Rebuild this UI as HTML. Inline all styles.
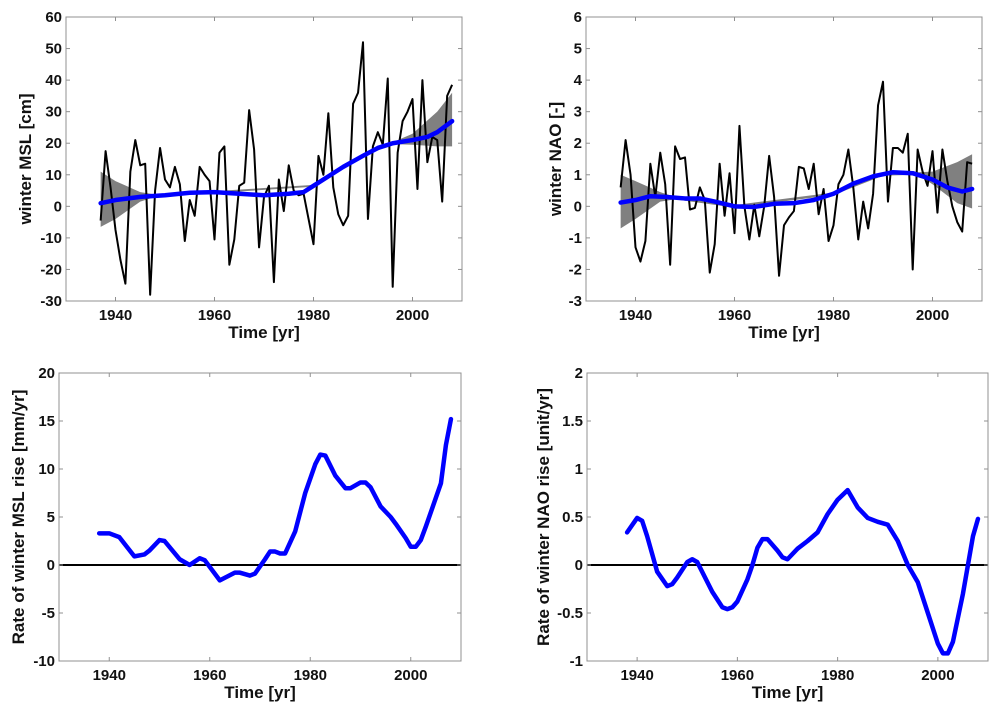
<!DOCTYPE html>
<html><head><meta charset="utf-8"><style>
html,body{margin:0;padding:0;background:#fff}
svg{display:block;font-family:"Liberation Sans",Arial,sans-serif;font-weight:bold}
</style></head><body>
<svg id="fig" width="1000" height="708" viewBox="0 0 1000 708" xmlns="http://www.w3.org/2000/svg"></svg>
<script>
const xTicks=[1940,1960,1980,2000];
const years=[];for(let y=1937;y<=2008;y++)years.push(y);
const mslValues=[-4.5,17.5,6,-7.5,-17,-24.5,11,21,13,13.5,-28,5,18.5,8.5,6,12.5,7,-11,2,-3,12.5,10,8,-10.5,17,19,-18.5,-10.5,6.5,7.5,30.5,18,-13,3,6.5,-24,8.5,-1.5,13,5,3.5,4,-4,-12,16,10,29.5,6,-2.5,-6,-3,32.5,36,52,-4,19,23.5,19.5,40.5,-25.5,17,27,30,34,5.5,40,14,22,21,1.5,35,38.5];
const naoValues=[0.6,2.1,1.0,-1.3,-1.75,-1.1,1.35,0.3,1.7,0.7,-1.85,1.9,1.5,1.55,-0.1,-0.05,0.6,0.2,-2.1,-1.2,1.35,-0.3,1.05,-0.85,2.55,0.0,-1.05,0.05,-0.95,0.0,1.6,0.3,-2.2,-0.6,-0.35,-0.15,1.25,1.2,0.55,1.35,-0.25,0.55,-1.1,-0.6,0.7,1.0,1.8,0.6,-1.05,0.15,-0.7,0.4,3.2,3.95,0.15,1.85,1.85,1.7,2.3,-2.0,1.8,1.1,0.65,1.75,-0.2,1.8,0.8,0.0,-0.5,-0.8,1.4,1.35];
const mslTrendYears=[1937,1940,1945,1950,1955,1960,1965,1970,1975,1978,1980,1983,1986,1990,1993,1996,2000,2003,2005,2008];
const mslTrend=[1,2,3,3.5,4.3,4.5,4,3.5,4,4.5,6.5,9.5,12.5,16,18.5,20,21,22,23.5,27];
const mslBandYears=[1937,1940,1945,1948,1960,1980,1990,1996,2000,2005,2008];
const mslUpper=[11,8,4.5,3.8,4.8,6.8,16.3,20.3,23,30,36];
const mslLower=[-6.5,-4,1.5,3,4.2,6.2,15.7,19.7,19.5,19,19];
const naoTrendYears=[1937,1940,1943,1946,1950,1953,1956,1960,1964,1968,1972,1976,1980,1984,1988,1992,1996,2000,2003,2006,2008];
const naoTrend=[0.12,0.2,0.32,0.3,0.25,0.25,0.15,0.0,-0.02,0.08,0.1,0.2,0.4,0.72,0.95,1.08,1.05,0.85,0.6,0.47,0.55];
const naoBandYears=[1937,1940,1945,1948,1960,1980,1990,1997,2000,2005,2008];
const naoUpper=[1.0,0.8,0.45,0.3,0.04,0.44,1.05,1.08,1.1,1.4,1.65];
const naoLower=[-0.7,-0.4,0.15,0.22,-0.04,0.36,0.97,1.0,0.7,0.1,-0.07];
const mslRateYears=[1938,1940,1942,1945,1947,1948,1950,1951,1954,1956,1958,1959,1962,1965,1966,1968,1969,1971,1972,1973,1974,1975,1977,1979,1981,1982,1983,1985,1987,1988,1990,1991,1992,1994,1996,1997,1999,2000,2001,2002,2003,2005,2006,2007,2008];
const mslRate=[3.3,3.3,2.9,0.9,1.1,1.5,2.6,2.5,0.6,0.0,0.7,0.5,-1.6,-0.8,-0.8,-1.1,-0.9,0.6,1.4,1.4,1.2,1.2,3.5,7.5,10.5,11.5,11.4,9.3,8.0,8.0,8.6,8.6,8.1,6.1,5.0,4.3,2.8,1.9,1.9,2.6,4.0,7.0,8.5,12.5,15.2];
const naoRateYears=[1938,1940,1941,1942,1944,1946,1947,1948,1950,1951,1952,1955,1957,1958,1959,1960,1962,1963,1964,1965,1966,1968,1969,1970,1972,1974,1976,1978,1980,1982,1984,1986,1988,1990,1992,1994,1996,1998,2000,2001,2002,2003,2005,2006,2007,2008];
const naoRate=[0.34,0.49,0.46,0.3,-0.07,-0.22,-0.2,-0.13,0.03,0.06,0.03,-0.28,-0.44,-0.46,-0.44,-0.38,-0.15,0.0,0.18,0.27,0.27,0.15,0.08,0.06,0.17,0.25,0.34,0.53,0.68,0.78,0.6,0.49,0.45,0.42,0.25,0.0,-0.18,-0.5,-0.82,-0.92,-0.92,-0.8,-0.3,0.0,0.3,0.48];

const NS="http://www.w3.org/2000/svg";
const svg=document.getElementById('fig');
function mk(tag,attrs,parent){const e=document.createElementNS(NS,tag);for(const k in attrs)e.setAttribute(k,attrs[k]);(parent||svg).appendChild(e);return e;}

function panel(o){
  const g=mk('g',{});
  
  
  const X=v=>o.l+(v-1930)/80*(o.r-o.l);
  const Y=v=>o.b-(v-o.ymin)/(o.ymax-o.ymin)*(o.b-o.t);
  if(o.band){
    let pts=o.band.yrs.map((y,i)=>X(y)+','+Y(o.band.up[i]));
    pts=pts.concat(o.band.yrs.slice().reverse().map((y,i)=>X(y)+','+Y(o.band.lo[o.band.yrs.length-1-i])));
    const p=mk('polygon',{points:pts.join(' '),fill:'#808080',stroke:'none'},g);
    
    
  }
  if(o.zero){
    const z=mk('line',{x1:o.l,x2:o.r,y1:Y(0),y2:Y(0),stroke:'#000','stroke-width':2},g);
    
    
  }
  if(o.raw){
    const p=mk('polyline',{points:o.raw.yrs.map((y,i)=>X(y)+','+Y(o.raw.v[i])).join(' '),fill:'none',stroke:'#000','stroke-width':2,'stroke-linejoin':'round'},g);
    
    
  }
  const p2=mk('polyline',{points:o.blue.yrs.map((y,i)=>X(y)+','+Y(o.blue.v[i])).join(' '),fill:'none',stroke:'#0000ff','stroke-width':4.5,'stroke-linejoin':'round','stroke-linecap':'round'},g);
  
  
  const f=mk('rect',{x:o.l,y:o.t,width:o.r-o.l,height:o.b-o.t,fill:'none',stroke:'#909090','stroke-width':1},g);
  
  
  xTicks.forEach(v=>{
    const x=X(v);
    mk('line',{x1:x,x2:x,y1:o.b,y2:o.b-4,stroke:'#909090'},g);
    mk('line',{x1:x,x2:x,y1:o.t,y2:o.t+4,stroke:'#909090'},g);
    const t=mk('text',{x:x,y:o.b+19,'text-anchor':'middle','font-size':15,fill:'#111'},g);
    t.textContent=v;
    
    
  });
  o.yticks.forEach(v=>{
    const y=Y(v);
    mk('line',{x1:o.l,x2:o.l+4,y1:y,y2:y,stroke:'#909090'},g);
    mk('line',{x1:o.r,x2:o.r-4,y1:y,y2:y,stroke:'#909090'},g);
    const t=mk('text',{x:o.l-4,y:y+5,'text-anchor':'end','font-size':15,fill:'#111'},g);
    t.textContent=v;
    
    
  });
  const xt=mk('text',{x:(o.l+o.r)/2,y:o.b+37,'text-anchor':'middle','font-size':17,fill:'#111'},g);
  xt.textContent='Time [yr]';
  
  
  const cy=(o.t+o.b)/2;
  const yt=mk('text',{x:o.ytx,y:cy,'text-anchor':'middle','font-size':17,fill:'#111',transform:`rotate(-90 ${o.ytx} ${cy})`},g);
  yt.textContent=o.ytitle;
  
  
}
panel({name:'msl-panel',l:66,r:462,t:17,b:301,ymin:-30,ymax:60,yticks:[-30,-20,-10,0,10,20,30,40,50,60],
  band:{yrs:mslBandYears,up:mslUpper,lo:mslLower},raw:{yrs:years,v:mslValues},blue:{yrs:mslTrendYears,v:mslTrend},blueName:'msl-trend-line',
  ytitle:'winter MSL [cm]',ytx:31});
panel({name:'nao-panel',l:586,r:982,t:17,b:301,ymin:-3,ymax:6,yticks:[-3,-2,-1,0,1,2,3,4,5,6],
  band:{yrs:naoBandYears,up:naoUpper,lo:naoLower},raw:{yrs:years,v:naoValues},blue:{yrs:naoTrendYears,v:naoTrend},blueName:'nao-trend-line',
  ytitle:'winter NAO [-]',ytx:561});
panel({name:'msl-rate-panel',l:59,r:461,t:373,b:661,ymin:-10,ymax:20,yticks:[-10,-5,0,5,10,15,20],zero:true,
  blue:{yrs:mslRateYears,v:mslRate},blueName:'msl-rate-line',ytitle:'Rate of winter MSL rise [mm/yr]',ytx:24});
panel({name:'nao-rate-panel',l:587,r:988,t:373,b:661,ymin:-1,ymax:2,yticks:[-1,-0.5,0,0.5,1,1.5,2],zero:true,
  blue:{yrs:naoRateYears,v:naoRate},blueName:'nao-rate-line',ytitle:'Rate of winter NAO rise [unit/yr]',ytx:549});
</script>
</body></html>
